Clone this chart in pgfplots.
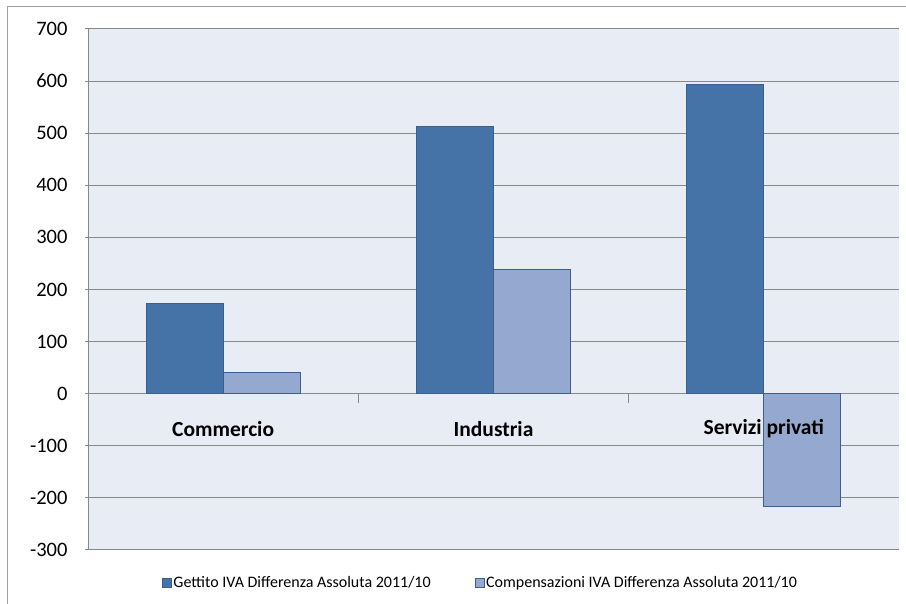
\documentclass[border=0pt]{standalone}
\usepackage{pgfplots}
\pgfplotsset{compat=1.18}
\usepackage{fontspec}
\setmainfont{Carlito}
\definecolor{darkbar}{HTML}{4572A7}
\definecolor{lightbar}{HTML}{95A9D0}
\definecolor{baredge}{HTML}{3A5F8E}
\definecolor{plotbg}{HTML}{E8ECF4}
\definecolor{gridc}{HTML}{888888}
\begin{document}
\begin{tikzpicture}[x=1pt,y=1pt]
\useasboundingbox (0,0) rectangle (906,604);
\draw[gridc!80,line width=1pt] (7,0) -- (7,597) -- (906,597);
\begin{axis}[
  at={(88pt,54pt)}, anchor=south west,
  width=811pt, height=521pt, scale only axis,
  xmin=-0.5, xmax=2.5, ymin=-300, ymax=700,
  ytick={-300,-200,...,700},
  xtick=\empty,
  axis x line=middle,
  axis y line=left,
  axis line style={gridc,line width=1pt,-},
  ymajorgrids,
  major grid style={gridc,line width=1pt},
  ytick style={gridc,line width=1pt},
  major tick length=6pt,
  axis background/.style={fill=plotbg},
  yticklabel style={font=\fontsize{20.5}{22}\selectfont, xshift=-14pt},
  /pgf/number format/assume math mode=true,
  ybar=0pt,
  bar width=0.285,
  legend style={at={(axis description cs:0.5,0)}, anchor=center, yshift=-33pt, xshift=-13pt,
    draw=none, fill=none,
    font=\fontsize{16}{18}\selectfont, legend columns=2,
    /tikz/every even column/.append style={column sep=42pt}},
  legend image code/.code={\draw[#1,draw=baredge,line width=0.5pt] (0pt,-4.5pt) rectangle (9pt,4.5pt);},
  clip=false,
]
\draw[gridc,line width=1pt] (axis cs:0.5,0) -- (axis cs:0.5,-17);
\draw[gridc,line width=1pt] (axis cs:1.5,0) -- (axis cs:1.5,-17);
\addplot[fill=darkbar, draw=baredge, line width=0.8pt] coordinates {(0,173) (1,513) (2,593)};
\addplot[fill=lightbar, draw=baredge, line width=0.8pt] coordinates {(0,40) (1,239) (2,-217)};
\legend{Gettito IVA Differenza Assoluta 2011/10,Compensazioni IVA Differenza Assoluta 2011/10}
\node[font=\fontsize{21.5}{23}\selectfont\bfseries] at (axis cs:0,-67) {Commercio};
\node[font=\fontsize{21.5}{23}\selectfont\bfseries] at (axis cs:1,-67) {Industria};
\node[font=\fontsize{21.5}{23}\selectfont\bfseries] at (axis cs:2,-67) {Servizi privati};
\end{axis}
\end{tikzpicture}
\end{document}
